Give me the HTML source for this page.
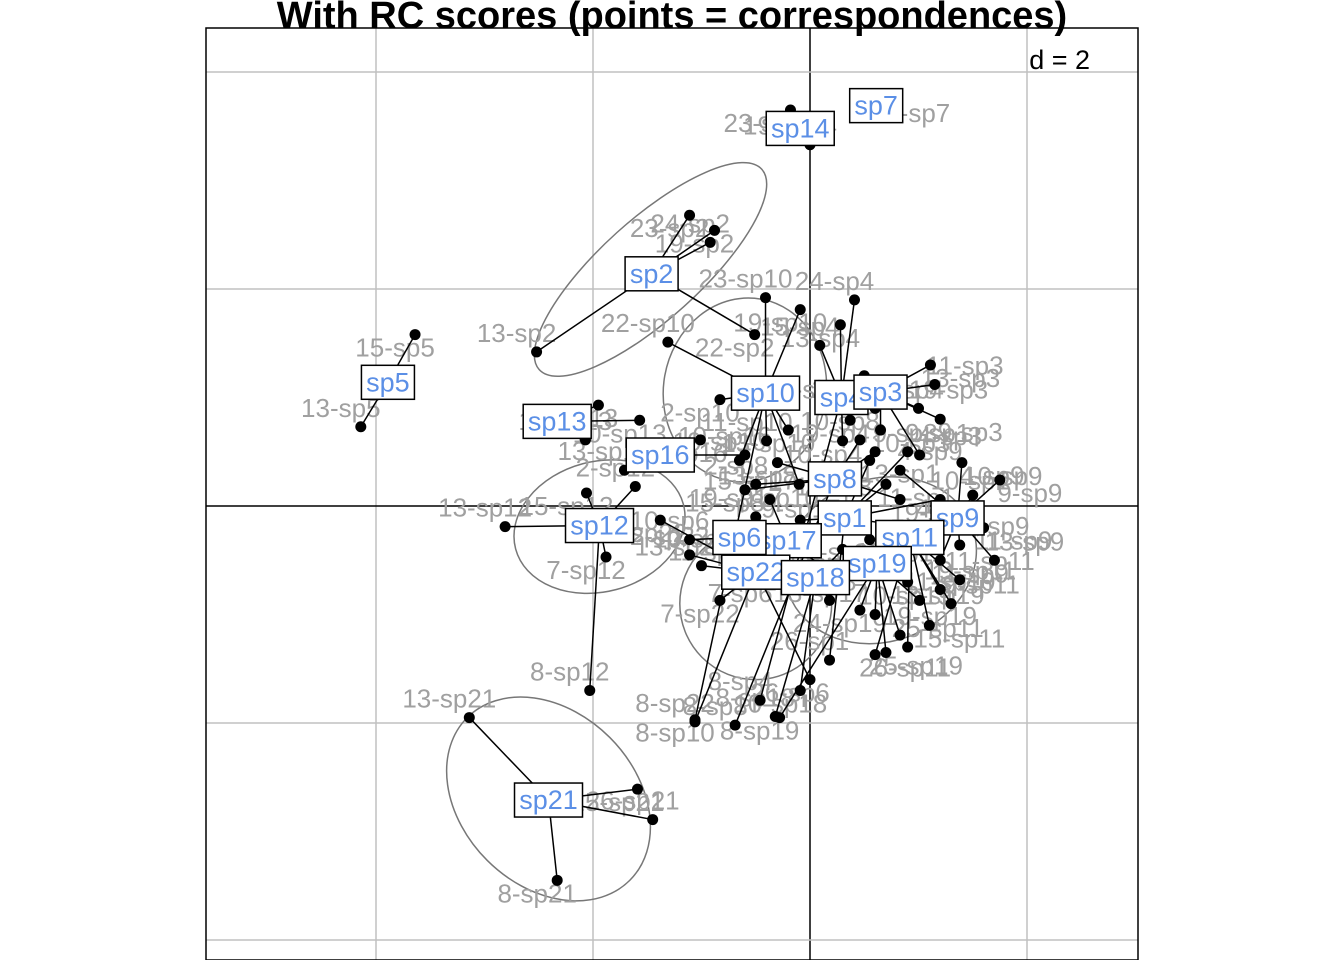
<!DOCTYPE html>
<html><head><meta charset="utf-8"><style>
body{margin:0;background:#fff;}
svg{display:block;font-family:"Liberation Sans",sans-serif;}
</style></head><body>
<svg id="chart" width="1344" height="960"></svg>
<script>
const speciesNames=["sp5","sp2","sp21","sp12","sp14","sp7","sp10","sp4","sp13","sp16","sp3","sp8","sp1","sp9","sp11","sp17","sp19","sp22","sp18","sp6"];
const speciesX=[-3.89,-1.46,-2.41,-1.94,-0.09,0.61,-0.41,0.29,-2.33,-1.38,0.65,0.23,0.32,1.36,0.92,-0.21,0.62,-0.5,0.05,-0.65];
const speciesY=[1.14,2.14,-2.71,-0.18,3.48,3.69,1.04,1.0,0.78,0.47,1.05,0.25,-0.11,-0.11,-0.29,-0.32,-0.53,-0.61,-0.66,-0.29];
const pointSpecies=["sp5","sp5","sp2","sp2","sp2","sp2","sp2","sp21","sp21","sp21","sp21","sp12","sp12","sp12","sp12","sp12","sp14","sp14","sp7","sp10","sp10","sp10","sp10","sp10","sp10","sp4","sp4","sp4","sp4","sp4","sp13","sp13","sp13","sp16","sp16","sp16","sp3","sp3","sp3","sp3","sp8","sp8","sp8","sp8","sp1","sp1","sp1","sp1","sp9","sp9","sp9","sp9","sp11","sp11","sp11","sp11","sp17","sp17","sp17","sp19","sp19","sp19","sp19","sp22","sp22","sp22","sp22","sp18","sp18","sp18","sp6","sp6","sp6",
"sp9","sp9","sp9","sp9","sp11","sp11","sp11","sp19","sp19","sp19","sp1","sp1","sp1","sp4","sp4","sp4","sp4","sp3","sp3","sp8","sp8","sp8","sp8","sp10","sp10","sp10","sp17","sp17","sp17","sp22","sp22","sp18","sp18"];
const pointSite=["15","13","23","24","19","13","22","13","25","26","8","13","15","2","7","8","23","19","24","23","19","22","2","10","8","24","13","15","19","8","2","15","10","13","15","10","13","11","10","4","15","10","19","8","13","10","15","26","9","19","11","4","23","11","26","19","10","15","13","19","8","11","24","2","7","8","15","8","10","19","26","10","7",
"10","11","13","4","9","15","25","25","10","13","9","11","4","2","11","10","9","9","19","11","9","13","2","13","11","9","19","11","9","11","13","13","9"];
const pointX=[-3.64,-4.14,-1.11,-0.92,-0.88,-2.52,-0.51,-3.14,-1.59,-1.45,-2.33,-2.81,-2.06,-1.61,-1.88,-2.03,-0.18,0,0.65,-0.41,-0.09,-1.31,-0.83,-0.65,-1.06,0.41,0.28,0.09,0.37,-0.46,-1.95,-2.07,-1.57,-1.71,-1.01,-0.6,1.11,1.15,0.65,1.01,-0.6,0.46,0.83,-0.69,0.55,1.2,-0.09,0.18,1.75,1.38,1.2,0.83,0.55,1.38,0.6,1.2,-0.83,-0.37,0.28,0.83,-0.28,1.01,0.46,-1.11,-0.83,-1.06,-1.38,-0.32,-0.09,0.18,0,-1.11,-0.46,
1.5,1.6,1.7,1.4,1.3,1.1,0.9,0.7,0.6,0.9,0.9,0.7,1.0,0.5,0.6,0.3,0.2,1.2,1.0,0.4,0.6,-0.3,-0.5,-0.2,-0.4,-0.1,-0.5,-0.2,0.1,-0.7,-1.0,0.3,0.5];
const pointY=[1.58,0.73,2.68,2.43,2.54,1.42,1.58,-1.95,-2.61,-2.89,-3.45,-0.19,0.12,0.18,-0.47,-1.70,3.65,3.33,3.74,1.92,1.81,1.51,0.98,0.42,-1.97,1.9,1.67,1.48,0.79,-1.79,0.93,0.61,0.79,0.33,0.61,0.47,1.3,1.12,0.7,0.47,0.15,0.61,0.06,-2.02,0.42,0.06,-0.13,-1.42,0.24,-0.36,-0.5,0.33,-0.31,-0.68,-1.37,-0.77,-0.18,0.06,-0.68,-1.19,-1.95,-0.87,-0.96,-0.45,-0.87,-1.99,-0.13,-1.94,-1.7,-0.87,-1.6,-0.31,-0.68,
0.1,-0.2,-0.5,0.4,-0.9,-1.1,-1.3,-1.35,-1.0,-0.7,0.5,0.2,-0.2,1.2,0.9,0.6,0.9,0.8,0.9,0.3,0.5,0.4,0.2,0.7,0.6,0.2,-0.1,-0.4,-0.2,-0.3,-0.55,-0.4,-0.6];
const ellipseSpecies=["sp2","sp21","sp12","sp10","sp19","sp22"];
const ellipseCX=[-1.47,-2.41,-1.94,-0.6,0.65,-0.5];
const ellipseCY=[2.18,-2.70,-0.19,1.07,-0.5,-0.9];
const ellipseRX=[1.38,1.06,0.8,0.85,0.9,0.7];
const ellipseRY=[0.46,0.8,0.6,0.75,0.75,0.7];
const ellipseAngle=[42,-45,15,80,20,0];

const NS="http://www.w3.org/2000/svg";
const svg=document.getElementById("chart");
const X0=206,X1=1138,Y0=28,Y1=960,OX=810,OY=506,U=108.5;
const sx=v=>OX+v*U, sy=v=>OY-v*U;
function mk(tag,attrs,parent){const e=document.createElementNS(NS,tag);for(const k in attrs)e.setAttribute(k,attrs[k]);(parent||svg).appendChild(e);return e;}

const grid=mk("g",{});


for(let i=-4;i<=4;i+=2){const x=sx(i);if(x>X0&&x<X1)mk("line",{x1:x,x2:x,y1:Y0,y2:Y1,stroke:i===0?"#000":"#c0c0c0","stroke-width":1.5},grid);}
for(let j=-4;j<=4;j+=2){const y=sy(j);if(y>Y0&&y<Y1)mk("line",{x1:X0,x2:X1,y1:y,y2:y,stroke:j===0?"#000":"#c0c0c0","stroke-width":1.5},grid);}
const d=mk("text",{x:1090,y:69,"font-size":27,"text-anchor":"end"});
d.textContent="d = 2";



function spIdx(n){return speciesNames.indexOf(n);}
const eg=mk("g",{});


ellipseSpecies.forEach((n,k)=>{
  const cx=sx(ellipseCX[k]),cy=sy(ellipseCY[k]);
  const el=mk("ellipse",{cx:cx,cy:cy,rx:ellipseRX[k]*U,ry:ellipseRY[k]*U,fill:"none",stroke:"#777","stroke-width":1.5,transform:`rotate(${-ellipseAngle[k]} ${cx} ${cy})`},eg);
  
  
});
const lg=mk("g",{});


pointSpecies.forEach((s,i)=>{
  const t=mk("text",{x:sx(pointX[i])+(pointX[i]>0.5?30:-20),y:sy(pointY[i])+(i%2?-10:22),"font-size":26,fill:"#a0a0a0","text-anchor":"middle"},lg);
  t.textContent=pointSite[i]+"-"+s;
  
  
});
const pg=mk("g",{});


pointSpecies.forEach((s,i)=>{
  const k=spIdx(s);
  const l=mk("line",{x1:sx(speciesX[k]),y1:sy(speciesY[k]),x2:sx(pointX[i]),y2:sy(pointY[i]),stroke:"#000","stroke-width":1.5},pg);
  
  
});
pointSpecies.forEach((s,i)=>{
  const c=mk("circle",{cx:sx(pointX[i]),cy:sy(pointY[i]),r:5.5,fill:"#000"},pg);
  
  
});
speciesNames.forEach((n,k)=>{
  const g=mk("g",{});
  
  
  const w=n.length*15+8;
  mk("rect",{x:sx(speciesX[k])-w/2,y:sy(speciesY[k])-17,width:w,height:34,fill:"#fff",stroke:"#000","stroke-width":1.5},g);
  const t=mk("text",{x:sx(speciesX[k]),y:sy(speciesY[k])+9,"font-size":27,fill:"#5b8fe6","text-anchor":"middle"},g);
  t.textContent=n;
});
const fr=mk("rect",{x:X0,y:Y0,width:X1-X0,height:Y1-Y0,fill:"none",stroke:"#000","stroke-width":1.5});


const title=mk("text",{x:672,y:28,"font-size":38,"font-weight":"bold","text-anchor":"middle"});
title.textContent="With RC scores (points = correspondences)";


</script>
</body></html>
